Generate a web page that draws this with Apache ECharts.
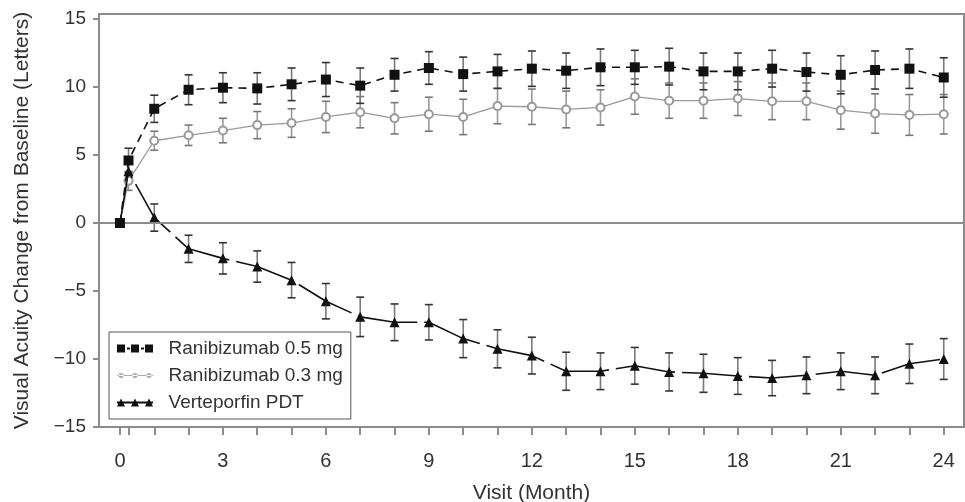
<!DOCTYPE html>
<html>
<head>
<meta charset="utf-8">
<script src="https://cdn.jsdelivr.net/npm/echarts@6/dist/echarts.min.js"></script>
<style>
  html, body { margin: 0; padding: 0; background: #fff; }
  #main { width: 965px; height: 502px; }
</style>
</head>
<body>
<div id="main"></div>
<script>
// visit months (0.25 = week 1)
var months = [0, 0.25, 1, 2, 3, 4, 5, 6, 7, 8, 9, 10, 11, 12, 13, 14, 15, 16, 17, 18, 19, 20, 21, 22, 23, 24];

// mean change from baseline
var rani05 = [0, 4.6, 8.4, 9.8, 9.95, 9.9, 10.2, 10.55, 10.1, 10.9, 11.4, 10.95, 11.15, 11.35, 11.2, 11.45, 11.45, 11.5, 11.15, 11.15, 11.35, 11.1, 10.9, 11.25, 11.35, 10.7];
var rani03 = [0, 3.1, 6.05, 6.45, 6.8, 7.2, 7.35, 7.8, 8.15, 7.7, 8.0, 7.8, 8.6, 8.55, 8.35, 8.5, 9.3, 9.0, 9.0, 9.15, 8.95, 8.95, 8.3, 8.05, 7.95, 8.0];
var vpdt = [0, 3.8, 0.4, -1.9, -2.6, -3.2, -4.2, -5.75, -6.9, -7.3, -7.3, -8.5, -9.25, -9.75, -10.9, -10.9, -10.5, -10.95, -11.05, -11.25, -11.4, -11.2, -10.9, -11.2, -10.35, -10.0];

// standard errors (half length of the bars)
var rani05Se = [0, 0.9, 1.0, 1.1, 1.1, 1.15, 1.2, 1.25, 1.3, 1.2, 1.2, 1.25, 1.25, 1.3, 1.3, 1.35, 1.25, 1.35, 1.35, 1.35, 1.35, 1.4, 1.4, 1.4, 1.45, 1.45];
var rani03Se = [0, 0.7, 0.7, 0.75, 0.9, 1.0, 1.05, 1.15, 1.15, 1.15, 1.25, 1.3, 1.3, 1.3, 1.35, 1.3, 1.3, 1.3, 1.3, 1.25, 1.35, 1.35, 1.4, 1.45, 1.5, 1.45];
var vpdtSe = [0, 0.8, 1.0, 1.0, 1.15, 1.15, 1.3, 1.3, 1.45, 1.35, 1.3, 1.4, 1.4, 1.35, 1.4, 1.35, 1.35, 1.4, 1.4, 1.35, 1.3, 1.35, 1.35, 1.35, 1.45, 1.5];

// axis ticks / labels
var xTicks = [0, 0.25, 1, 2, 3, 4, 5, 6, 7, 8, 9, 10, 11, 12, 13, 14, 15, 16, 17, 18, 19, 20, 21, 22, 23, 24];
var xLabels = [0, 3, 6, 9, 12, 15, 18, 21, 24];
var yTicks = [-15, -10, -5, 0, 5, 10, 15];

var names = ['Ranibizumab 0.5 mg', 'Ranibizumab 0.3 mg', 'Verteporfin PDT'];

var font = 'Liberation Sans, Arial, sans-serif';
var axisGray = '#8c8c8c';

function pts(mean) {
  return months.map(function (m, i) { return [m, mean[i]]; });
}
function bars(mean, se) {
  var out = [];
  months.forEach(function (m, i) {
    if (se[i] > 0) out.push([m, mean[i] - se[i], mean[i] + se[i]]);
  });
  return out;
}
function errBar(stem, cap) {
  return function (params, api) {
    var x = api.value(0);
    var top = api.coord([x, api.value(2)]);
    var bot = api.coord([x, api.value(1)]);
    var hw = 4;
    return {
      type: 'group',
      children: [
        { type: 'line', shape: { x1: top[0], y1: top[1], x2: bot[0], y2: bot[1] }, style: { stroke: stem, lineWidth: 1.6 } },
        { type: 'line', shape: { x1: top[0] - hw, y1: top[1], x2: top[0] + hw, y2: top[1] }, style: { stroke: cap, lineWidth: 1.6 } },
        { type: 'line', shape: { x1: bot[0] - hw, y1: bot[1], x2: bot[0] + hw, y2: bot[1] }, style: { stroke: cap, lineWidth: 1.6 } }
      ]
    };
  };
}

var myChart = echarts.init(document.getElementById('main'));

var option = {
  animation: false,
  backgroundColor: '#fff',
  textStyle: { fontFamily: font },
  grid: {
    left: 99, right: 1, top: 14, bottom: 75,
    outerBoundsMode: 'none',
    containLabel: false,
    show: true, borderColor: axisGray, borderWidth: 2, backgroundColor: 'transparent'
  },
  legend: {
    orient: 'vertical',
    left: 109, top: 332,
    padding: [7, 8, 7, 8],
    itemGap: 8,
    itemWidth: 36, itemHeight: 10,
    backgroundColor: '#fff',
    borderColor: '#555', borderWidth: 1,
    formatter: function (n) { return '  ' + n; },
    textStyle: { fontSize: 19, color: '#333', fontFamily: font },
    data: [
      { name: names[0], icon: 'path://M0,1h8v8h-8z M10,4h3v2h-3z M14,1h8v8h-8z M24,4h3v2h-3z M28,1h8v8h-8z', itemStyle: { color: '#111' } },
      { name: names[1], icon: 'path://M0,4.4h36v1.2h-36z M1.5,5a2.5,2.5 0 1,0 5,0a2.5,2.5 0 1,0 -5,0z M15.5,5a2.5,2.5 0 1,0 5,0a2.5,2.5 0 1,0 -5,0z M29.5,5a2.5,2.5 0 1,0 5,0a2.5,2.5 0 1,0 -5,0z', itemStyle: { color: '#aaa' } },
      { name: names[2], icon: 'path://M0,4h36v2h-36z M0,9l4,-8l4,8z M14,9l4,-8l4,8z M28,9l4,-8l4,8z', itemStyle: { color: '#111' } }
    ]
  },
  xAxis: {
    type: 'value',
    min: -0.61, max: 24.59,
    name: 'Visit (Month)',
    nameLocation: 'middle',
    nameGap: 56,
    nameTextStyle: { fontSize: 21, color: '#333' },
    axisLine: { show: true, onZero: false, lineStyle: { color: axisGray, width: 2 } },
    axisTick: { show: true, inside: false, length: 8, customValues: xTicks, lineStyle: { color: axisGray, width: 2 } },
    axisLabel: { customValues: xLabels, fontSize: 20, color: '#333', margin: 24 },
    splitLine: { show: false }
  },
  yAxis: {
    type: 'value',
    min: -15, max: 15.37,
    name: 'Visual Acuity Change from Baseline (Letters)',
    nameLocation: 'middle',
    nameGap: 66,
    nameRotate: 90,
    nameTextStyle: { fontSize: 21, color: '#333' },
    axisLine: { show: true, onZero: false, lineStyle: { color: axisGray, width: 2 } },
    axisTick: { show: true, length: 6, customValues: yTicks, lineStyle: { color: axisGray, width: 2 } },
    axisLabel: {
      customValues: yTicks, fontSize: 19, color: '#333', margin: 13,
      formatter: function (v) { return String(v).replace('-', '\u2212'); }
    },
    splitLine: { show: false }
  },
  series: [
    {
      type: 'custom', name: 'se03', renderItem: errBar('#9a9a9a', '#777'),
      data: bars(rani03, rani03Se), encode: { x: 0, y: [1, 2] }, z: 1, silent: true
    },
    {
      type: 'custom', name: 'se05', renderItem: errBar('#7a7a7a', '#333'),
      data: bars(rani05, rani05Se), encode: { x: 0, y: [1, 2] }, z: 1, silent: true
    },
    {
      type: 'custom', name: 'sePdt', renderItem: errBar('#7a7a7a', '#333'),
      data: bars(vpdt, vpdtSe), encode: { x: 0, y: [1, 2] }, z: 1, silent: true
    },
    {
      name: names[1], type: 'line', data: pts(rani03), z: 3,
      symbol: 'emptyCircle', symbolSize: 8,
      itemStyle: { color: '#999', borderWidth: 1.2 },
      lineStyle: { color: '#999', width: 1.3 },
      markLine: {
        silent: true, symbol: 'none', label: { show: false },
        lineStyle: { color: axisGray, width: 2, type: 'solid' },
        data: [{ yAxis: 0 }]
      }
    },
    {
      name: names[2], type: 'line', data: pts(vpdt), z: 4,
      symbol: 'triangle', symbolSize: 10,
      itemStyle: { color: '#111' },
      lineStyle: { color: '#111', width: 1.6, type: [60, 7] }
    },
    {
      name: names[0], type: 'line', data: pts(rani05), z: 5,
      symbol: 'rect', symbolSize: 10,
      itemStyle: { color: '#111' },
      lineStyle: { color: '#111', width: 1.6, type: [8, 6] }
    }
  ]
};

myChart.setOption(option);
</script>
</body>
</html>
